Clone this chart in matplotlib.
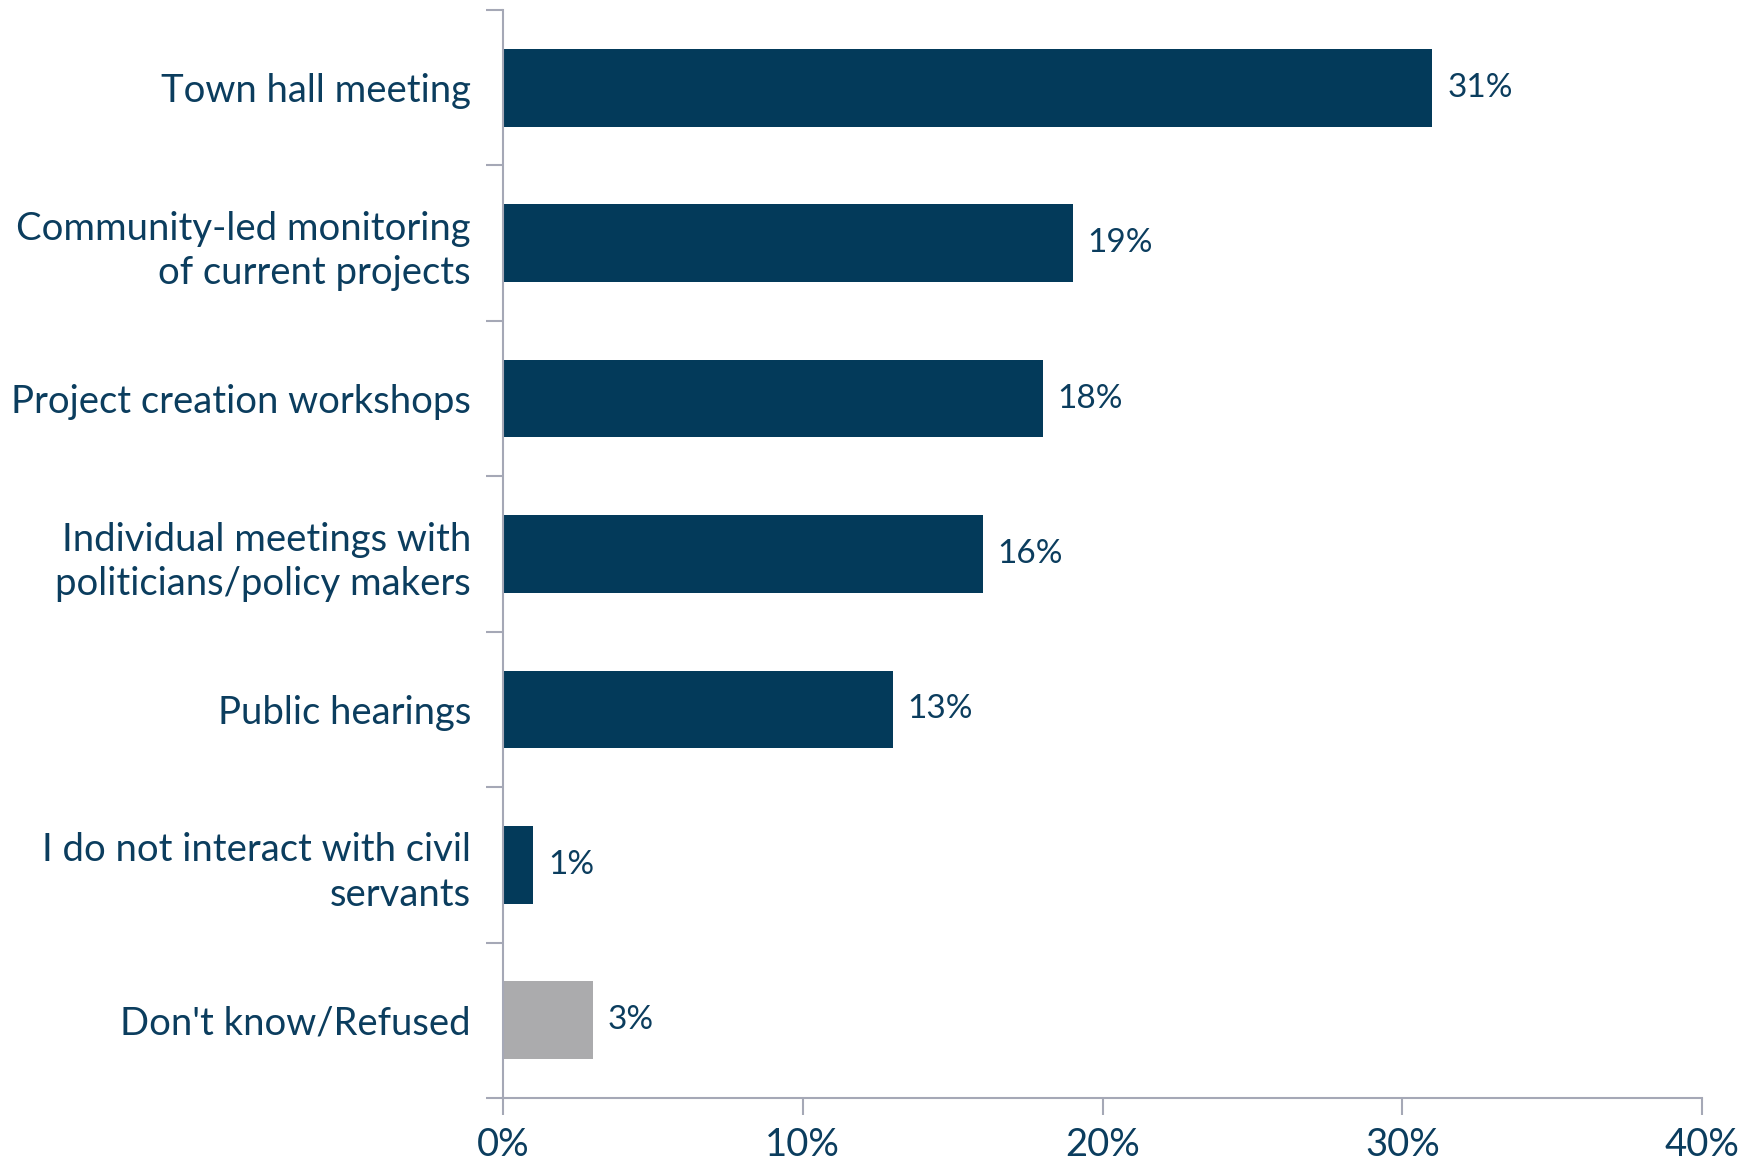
"""
Horizontal bar chart: preferred ways of interacting with civil servants.
Saves out.png (Agg backend).
"""
import matplotlib
matplotlib.use("Agg")
import matplotlib.pyplot as plt
import numpy as np

categories = [
    "Town hall meeting",
    "Community-led monitoring\nof current projects",
    "Project creation workshops",
    "Individual meetings with\npoliticians/policy makers",
    "Public hearings",
    "I do not interact with civil\nservants",
    "Don't know/Refused",
]
values = [31, 19, 18, 16, 13, 1, 3]
bar_colors = ["#033A5A"] * 6 + ["#ABABAD"]
x_ticks = [0, 10, 20, 30, 40]

TEXT = "#0B3D5E"
SPINE = "#A5A8B6"

plt.rcParams["font.family"] = ["Lato", "DejaVu Sans"]

fig = plt.figure(figsize=(17.5, 11.6), dpi=100)
ax = fig.add_axes([0.2874, 0.0534, 0.6852, 0.938])

n = len(categories)
y = np.arange(n)
ax.barh(y, values, height=0.5, color=bar_colors)

for yi, v in zip(y, values):
    ax.text(v + 0.5, yi, f"{v}%", va="center", ha="left",
            fontsize=24, color=TEXT)

ax.set_xlim(0, 40)
ax.set_ylim(n - 0.5, -0.5)

# category boundaries get the tick marks, centres get the labels
ax.set_yticks(np.arange(n + 1) - 0.5)
ax.set_yticklabels([])
ax.set_yticks(y, minor=True)
ax.set_yticklabels(categories, minor=True, fontsize=27.5, color=TEXT,
                   ha="right", linespacing=1.3)
ax.tick_params(axis="y", which="major", length=12, width=1.5, color=SPINE)
ax.tick_params(axis="y", which="minor", length=0, pad=23)

ax.set_xticks(x_ticks)
ax.set_xticklabels([f"{t}%" for t in x_ticks], fontsize=27.5, color=TEXT)
ax.tick_params(axis="x", length=12, width=1.5, color=SPINE, pad=9)

for side in ("top", "right"):
    ax.spines[side].set_visible(False)
for side in ("left", "bottom"):
    ax.spines[side].set_color(SPINE)
    ax.spines[side].set_linewidth(1.5)

fig.savefig("out.png", dpi=100)
plt.close(fig)
